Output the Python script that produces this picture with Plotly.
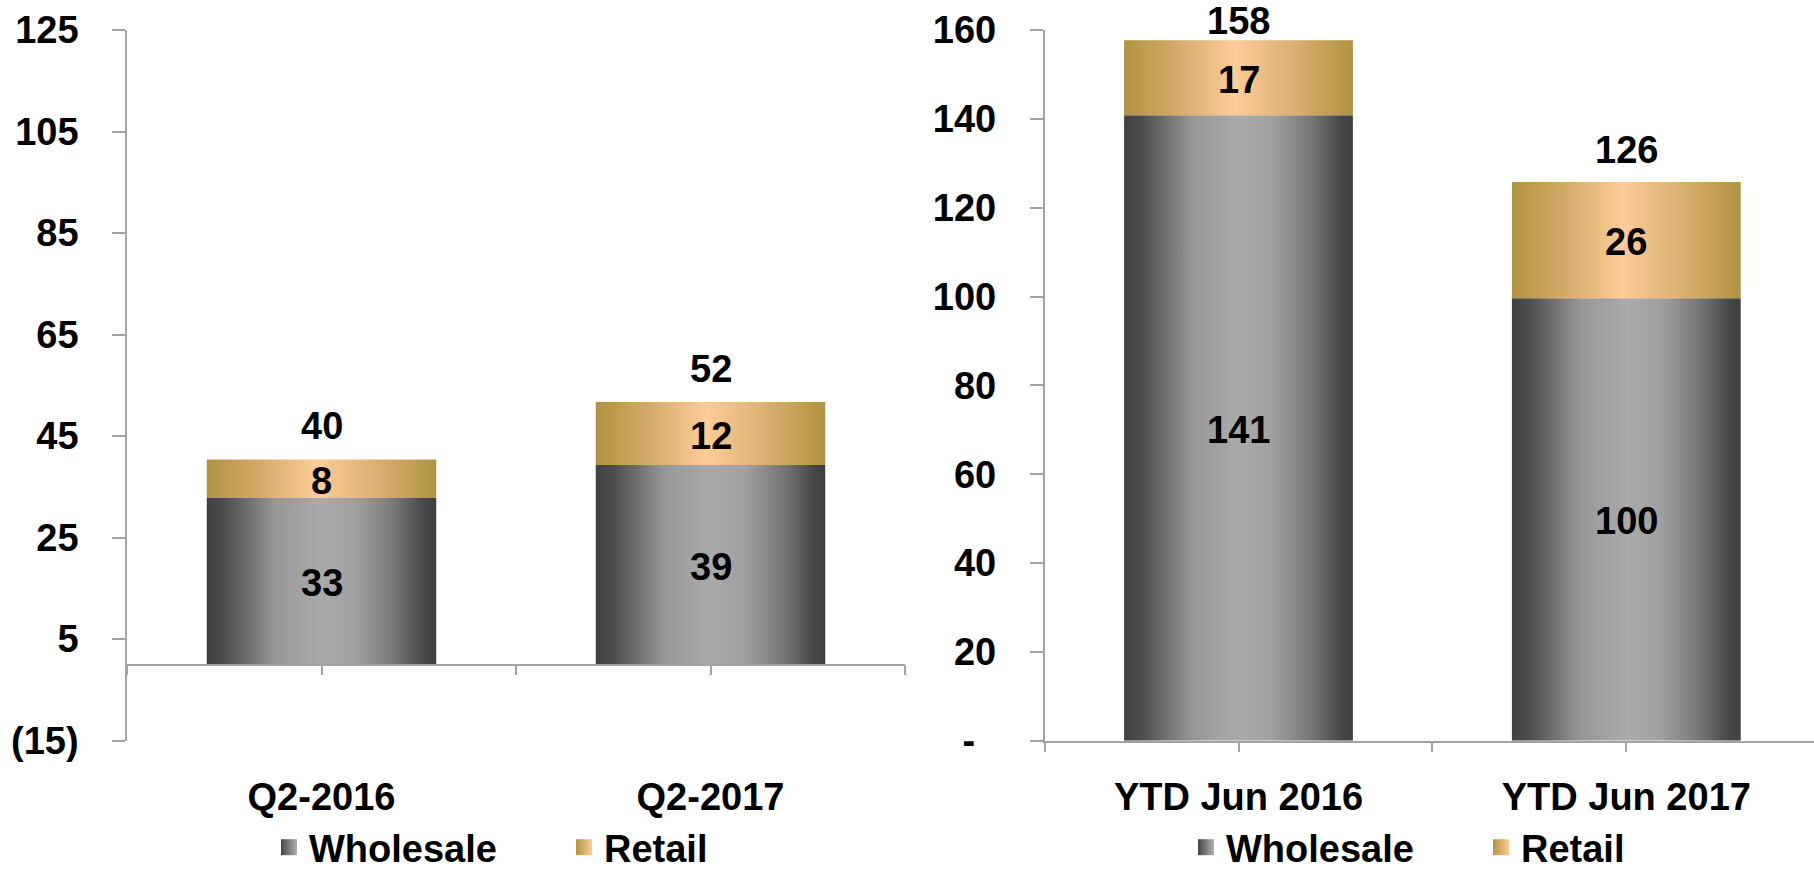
import plotly.graph_objects as go

# ---- data -------------------------------------------------------------
quarter_labels = ["Q2-2016", "Q2-2017"]
quarter_wholesale = [32.8, 39.3]
quarter_retail = [7.6, 12.4]

ytd_labels = ["YTD Jun 2016", "YTD Jun 2017"]
ytd_wholesale = [140.8, 99.6]
ytd_retail = [16.9, 26.2]

quarter_ticks = [-15, 5, 25, 45, 65, 85, 105, 125]
ytd_ticks = [0, 20, 40, 60, 80, 100, 120, 140, 160]

# ---- styling ----------------------------------------------------------
W, H = 1814, 873
FONT = "Liberation Sans"
AXIS_COLOR = "#a3a3a3"
BAR_WIDTH = 0.59

# plot area in pixels (top / bottom of both value axes)
PLOT_TOP, PLOT_BOTTOM = 30.0, 740.7
Q_RANGE = [-15, 125]
YTD_RANGE = [0, 160]

WHOLESALE_SCALE = [[0, "#404040"], [0.08, "#4e4e4e"], [0.3, "#979797"],
                   [0.5, "#aaaaaa"], [0.65, "#a0a0a0"], [0.82, "#767676"],
                   [0.95, "#474747"], [1, "#404040"]]
RETAIL_SCALE = [[0, "#b09342"], [0.25, "#d6ad6c"], [0.48, "#fdcc98"],
                [0.75, "#d9af70"], [1, "#b09342"]]

LABEL_FONT = dict(family=FONT, size=38, color="black", weight="bold")


def fmt_accounting(v):
    if v < 0:
        return f"({abs(v)})"
    if v == 0:
        return "-\u00a0\u00a0"
    return str(v)


fig = go.Figure()


def add_stack(xref, yref, wholesale, retail, legend, yrange, pad_px):
    px_per_unit = (PLOT_BOTTOM - PLOT_TOP) / (yrange[1] - yrange[0])
    for i, (w, r) in enumerate(zip(wholesale, retail)):
        for base, val, scale, name in ((0, w, WHOLESALE_SCALE, "Wholesale"),
                                       (w, r, RETAIL_SCALE, "Retail")):
            x0, x1 = i - BAR_WIDTH / 2, i + BAR_WIDTH / 2
            fig.add_trace(go.Scatter(
                x=[x0, x1, x1, x0, x0], y=[base, base, base + val, base + val, base],
                mode="none", fill="toself",
                fillgradient=dict(type="horizontal", colorscale=scale),
                name=name, showlegend=False, hoverinfo="skip",
                xaxis=xref, yaxis=yref))
            # segment value in the middle of the segment
            fig.add_annotation(
                x=i, y=base + val / 2, xref=xref, yref=yref, yshift=-2,
                text=f"{val:.0f}", showarrow=False, yanchor="middle",
                font=LABEL_FONT)
        # stack total, kept inside the figure when the stack is tall
        total = w + r
        top_px = PLOT_TOP + (yrange[1] - total) * px_per_unit
        shift = min(pad_px, top_px - 21)
        fig.add_annotation(
            x=i, y=total, xref=xref, yref=yref, yshift=shift,
            text=f"{total:.0f}", showarrow=False, yanchor="middle",
            font=LABEL_FONT)
    # legend entries
    fig.add_trace(go.Scatter(
        x=[None], y=[None], mode="markers", name="Wholesale", legend=legend,
        marker=dict(symbol="square", size=22, color="#454545",
                    gradient=dict(type="horizontal", color="#b0b0b0")),
        xaxis=xref, yaxis=yref))
    fig.add_trace(go.Scatter(
        x=[None], y=[None], mode="markers", name="Retail", legend=legend,
        marker=dict(symbol="square", size=22, color="#b09342",
                    gradient=dict(type="horizontal", color="#fdcc98")),
        xaxis=xref, yaxis=yref))


add_stack("x", "y", quarter_wholesale, quarter_retail, "legend", Q_RANGE, 33)
add_stack("x2", "y2", ytd_wholesale, ytd_retail, "legend2", YTD_RANGE, 32)

# ---- layout -----------------------------------------------------------
y_dom = [1 - PLOT_BOTTOM / H, 1 - PLOT_TOP / H]
left_dom = [127 / W, 905 / W]
right_dom = [1044.6 / W, 1.0]
right_span = (W - 1044.6) / 387.8

zero_pos = y_dom[0] + (0 - Q_RANGE[0]) / (Q_RANGE[1] - Q_RANGE[0]) * (y_dom[1] - y_dom[0])

tickfont = dict(family=FONT, size=38, color="black", weight="bold")
legendfont = dict(family=FONT, size=38, color="black", weight="bold")
cat_ticks = [-0.5, 0, 0.5, 1, 1.5]

# invisible trace so the zero-line axis is rendered
fig.add_trace(go.Scatter(x=[None], y=[None], xaxis="x3", yaxis="y",
                         showlegend=False, hoverinfo="skip"))

fig.update_layout(
    template="none",
    width=W, height=H,
    margin=dict(l=0, r=0, t=0, b=0, autoexpand=False),
    paper_bgcolor="white", plot_bgcolor="white",
    font=dict(family=FONT, color="black"),
    xaxis=dict(domain=left_dom, range=[-0.5, 1.5], anchor="y", automargin=False,
               tickvals=[0, 1], ticktext=quarter_labels, ticks="",
               showline=False, showgrid=False, zeroline=False,
               tickfont=tickfont, ticklabelstandoff=30),
    xaxis3=dict(overlaying="x", anchor="free", position=zero_pos, automargin=False,
                range=[-0.5, 1.5], tickvals=cat_ticks, showticklabels=False,
                ticks="outside", ticklen=10, tickwidth=1.5, tickcolor=AXIS_COLOR,
                showline=True, linecolor=AXIS_COLOR, linewidth=1.5,
                showgrid=False, zeroline=False),
    yaxis=dict(domain=y_dom, range=Q_RANGE, anchor="x", automargin=False,
               tickvals=quarter_ticks,
               ticktext=[fmt_accounting(v) for v in quarter_ticks],
               ticks="outside", ticklen=13, tickwidth=1.5, tickcolor=AXIS_COLOR,
               showline=True, linecolor=AXIS_COLOR, linewidth=1.5,
               showgrid=False, zeroline=False,
               tickfont=tickfont, ticklabelstandoff=26),
    xaxis2=dict(domain=right_dom, range=[-0.5, -0.5 + right_span], anchor="y2",
                automargin=False,
                tickvals=cat_ticks, ticktext=["", ytd_labels[0], "", ytd_labels[1], ""],
                ticks="outside", ticklen=10, tickwidth=1.5, tickcolor=AXIS_COLOR,
                showline=True, linecolor=AXIS_COLOR, linewidth=1.5,
                showgrid=False, zeroline=False,
                tickfont=tickfont, ticklabelstandoff=12),
    yaxis2=dict(domain=y_dom, range=YTD_RANGE, anchor="x2", automargin=False,
                tickvals=ytd_ticks, ticktext=[fmt_accounting(v) for v in ytd_ticks],
                ticks="outside", ticklen=13, tickwidth=1.5, tickcolor=AXIS_COLOR,
                showline=True, linecolor=AXIS_COLOR, linewidth=1.5,
                showgrid=False, zeroline=False,
                tickfont=tickfont, ticklabelstandoff=26),
    legend=dict(orientation="h", xref="container", yref="container",
                x=269 / W, xanchor="left", y=1 - 816 / H, yanchor="top",
                font=legendfont, entrywidth=250, bgcolor="rgba(0,0,0,0)"),
    legend2=dict(orientation="h", xref="container", yref="container",
                 x=1186 / W, xanchor="left", y=1 - 816 / H, yanchor="top",
                 font=legendfont, entrywidth=250, bgcolor="rgba(0,0,0,0)"),
    showlegend=True,
)

fig.write_html("out.html")
